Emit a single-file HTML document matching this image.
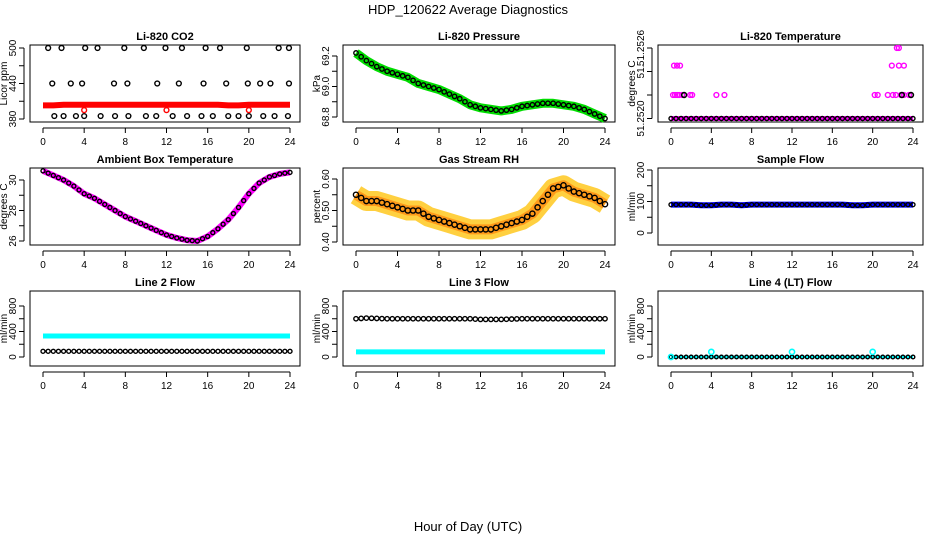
<!DOCTYPE html>
<html><head><meta charset="utf-8"><style>
body{margin:0;background:#fff}
svg{display:block;font-family:"Liberation Sans",sans-serif}
</style></head><body>
<svg id="c" width="936" height="540" viewBox="0 0 936 540">
<text x="468" y="14" text-anchor="middle" font-size="13">HDP_120622  Average Diagnostics</text>
<text x="468" y="531" text-anchor="middle" font-size="13">Hour of Day (UTC)</text>
</svg>
<script>
const hours=[0,1,2,3,4,5,6,7,8,9,10,11,12,13,14,15,16,17,18,19,20,21,22,23,24];
const xTicks=[0,4,8,12,16,20,24];
const co2Band=[403,403,404,404,404,404,404,404,404,404,404,404,404,404,404,404,404,404,403,403,404,404,404,404,404];
const co2BlackH=[1.1,2,3.2,4,5.6,7,8.3,10,11,12.6,14,15.4,16.5,18,19,20,21.4,22.5,23.8,0.5,1.8,4.1,5.3,7.9,9.8,11.9,13.5,15.8,17.2,19.8,22.9,23.9,0.9,2.7,3.8,6.9,8.2,11.1,13.2,15.6,17.8,19.9,21.1,22.1,23.9];
const co2BlackV=[385,385,385,385,385,385,385,385,385,385,385,385,385,385,385,385,385,385,385,500,500,500,500,500,500,500,500,500,500,500,500,500,440,440,440,440,440,440,440,440,440,440,440,440,440];
const co2RedH=[4,12,20];
const co2RedV=[395,395,395];
const presVals=[69.22,69.17,69.13,69.1,69.08,69.06,69.02,69.0,68.98,68.95,68.92,68.88,68.86,68.85,68.84,68.85,68.87,68.88,68.89,68.89,68.88,68.87,68.85,68.82,68.79];
const tempVals=[51.252,51.252,51.252,51.252,51.252,51.252,51.252,51.252,51.252,51.252,51.252,51.252,51.252,51.252,51.252,51.252,51.252,51.252,51.252,51.252,51.252,51.252,51.252,51.252,51.252];
const tempBlackUpH=[1.3,22.9,23.8];
const tempBlackUpV=[51.2522,51.2522,51.2522];
const tempPinkH=[0.2,0.4,0.6,0.8,1.1,1.9,2.1,4.5,5.3,20.2,20.5,21.5,22,22.3,22.8,23.1,23.6,0.3,0.6,0.9,21.9,22.6,23.1,22.4,22.6];
const tempPinkV=[51.2522,51.2522,51.2522,51.2522,51.2522,51.2522,51.2522,51.2522,51.2522,51.2522,51.2522,51.2522,51.2522,51.2522,51.2522,51.2522,51.2522,51.25245,51.25245,51.25245,51.25245,51.25245,51.25245,51.2526,51.2526];
const ambVals=[30.6,30.3,30.0,29.6,29.1,28.8,28.4,28.0,27.6,27.3,27.0,26.7,26.4,26.2,26.05,26.0,26.3,26.8,27.4,28.2,29.1,29.8,30.2,30.4,30.5];
const rhVals=[0.55,0.53,0.53,0.52,0.51,0.5,0.5,0.48,0.47,0.46,0.45,0.44,0.44,0.44,0.45,0.46,0.47,0.49,0.53,0.57,0.58,0.56,0.55,0.54,0.52];
const sampleVals=[90,90,90,88,88,90,90,88,90,90,90,90,90,90,90,90,90,90,88,88,90,90,90,90,90];
const line2Cyan=[330,330,330,330,330,330,330,330,330,330,330,330,330,330,330,330,330,330,330,330,330,330,330,330,330];
const line2Black=[90,90,90,90,90,90,90,90,90,90,90,90,90,90,90,90,90,90,90,90,90,90,90,90,90];
const line3Black=[600,610,605,600,600,600,600,600,600,600,600,600,590,590,590,595,600,600,600,600,600,600,600,600,600];
const line3Cyan=[80,80,80,80,80,80,80,80,80,80,80,80,80,80,80,80,80,80,80,80,80,80,80,80,80];
const line4Black=[0,0,0,0,0,0,0,0,0,0,0,0,0,0,0,0,0,0,0,0,0,0,0,0,0];
const line4SpikeH=[0,4,12,20];
const line4SpikeV=[0,80,80,80];

const svg=document.getElementById('c');const NS='http://www.w3.org/2000/svg';
function mk(t,a,p){const e=document.createElementNS(NS,t);for(const k in a)e.setAttribute(k,a[k]);(p||svg).appendChild(e);return e;}
const cols=[[30,300],[343,615],[658,923]];
const rows=[[45,122],[168,245],[291,366]];
function panel(ci,ri,title,ylab,y0v,y0p,y1v,y1p,yTicks,yLabels,name){
 const [l,r]=cols[ci],[t,b]=rows[ri];
 const g=mk('g',{});
 
 
 const x=v=>l+13+v*(r-l-23)/24;
 const y=v=>y0p+(v-y0v)*(y1p-y0p)/(y1v-y0v);
 mk('rect',{x:l,y:t,width:r-l,height:b-t,fill:'none',stroke:'#000','stroke-width':1},g);
 const tt=mk('text',{x:(l+r)/2,y:t-5,'text-anchor':'middle','font-size':11,'font-weight':'bold'},g);tt.textContent=title;
 
 
 mk('line',{x1:x(0),x2:x(24),y1:b+6,y2:b+6,stroke:'#000'},g);
 xTicks.forEach(v=>{mk('line',{x1:x(v),x2:x(v),y1:b+6,y2:b+11,stroke:'#000'},g);
  const tx=mk('text',{x:x(v),y:b+23,'text-anchor':'middle','font-size':10},g);tx.textContent=v;
  
  });
 mk('line',{x1:l-6,x2:l-6,y1:y(yTicks[0]),y2:y(yTicks[yTicks.length-1]),stroke:'#000'},g);
 yTicks.forEach((v,i)=>{mk('line',{x1:l-11,x2:l-6,y1:y(v),y2:y(v),stroke:'#000'},g);
  if(yLabels[i]!==''){const ty=mk('text',{x:0,y:0,'text-anchor':'middle','font-size':10,transform:`translate(${l-14},${y(v)}) rotate(-90)`},g);ty.textContent=yLabels[i];
  
  }});
 const yl=mk('text',{x:0,y:0,'text-anchor':'middle','font-size':10,transform:`translate(${l-23},${(t+b)/2}) rotate(-90)`},g);yl.textContent=ylab;
 
 
 return {g,x,y};
}
function band(p,hs,vs,col,w,op){mk('polyline',{points:hs.map((h,i)=>p.x(h)+','+p.y(vs[i])).join(' '),fill:'none',stroke:col,'stroke-width':w,'stroke-linejoin':'round','stroke-opacity':op||1},p.g);}
function pts(p,hs,vs,col,rad,sw,name){hs.forEach((h,i)=>{const c=mk('circle',{cx:p.x(h),cy:p.y(vs[i]),r:rad||2.6,fill:'none',stroke:col,'stroke-width':sw||1.4},p.g);
 
 });}
function dense(p,vs,col,rad,name){
 pts(p,hours,vs,col,rad,1.4,name);
 const mids=hours.slice(0,24).map(h=>h+0.5),mv=hours.slice(0,24).map((h,i)=>(vs[i]+vs[i+1])/2);pts(p,mids,mv,col,rad,1.4,name);}

let p=panel(0,0,'Li-820 CO2','Licor ppm',380,119,500,48,[380,410,440,470,500],['380','','440','','500'],'co2-panel');
band(p,hours,co2Band,'#ff0000',6);
pts(p,co2BlackH,co2BlackV,'#000',2.4,1.4,'co2-point');
pts(p,co2RedH,co2RedV,'#ff0000',2.4,1.4,'co2-red-point');

p=panel(1,0,'Li-820 Pressure','kPa',68.8,117,69.2,56,[68.8,68.9,69.0,69.1,69.2],['68.8','','69.0','','69.2'],'pressure-panel');
band(p,hours,presVals,'#00dd00',9);
dense(p,presVals,'#000',2.2,'pressure-point');

p=panel(2,0,'Li-820 Temperature','degrees C',51.252,118.5,51.2526,48,[51.252,51.2522,51.2524,51.2526],['51.2520','','51.','51.2526'],'temperature-panel');
band(p,hours,tempVals,'#ff00ff',5);
pts(p,tempPinkH,tempPinkV,'#ff00ff',2.4,1.4,'temperature-pink-point');
dense(p,tempVals,'#000',2,'temperature-point');
pts(p,tempBlackUpH,tempBlackUpV,'#000',2.4,1.6,'temperature-point');

p=panel(0,1,'Ambient Box Temperature','degrees C',26,241,30,180,[26,27,28,29,30],['26','','28','','30'],'ambient-panel');
band(p,hours,ambVals,'#ff00ff',6);
dense(p,ambVals,'#000',2,'ambient-point');

p=panel(1,1,'Gas Stream RH','percent',0.4,242,0.6,179,[0.4,0.45,0.5,0.55,0.6],['0.40','','0.50','','0.60'],'rh-panel');
band(p,hours,rhVals,'#ffc000',20,0.75);
band(p,hours,rhVals,'#ff7700',10,0.6);
dense(p,rhVals,'#000',2.6,'rh-point');

p=panel(2,1,'Sample Flow','ml/min',0,233,200,170,[0,50,100,150,200],['0','','100','','200'],'sample-flow-panel');
band(p,hours,sampleVals,'#0000ff',6);
dense(p,sampleVals,'#000',2,'sample-flow-point');

p=panel(0,2,'Line 2 Flow','ml/min',0,357,800,306,[0,200,400,600,800],['0','','400','','800'],'line2-panel');
band(p,hours,line2Cyan,'#00ffff',5);
dense(p,line2Black,'#000',2,'line2-point');

p=panel(1,2,'Line 3 Flow','ml/min',0,357,800,306,[0,200,400,600,800],['0','','400','','800'],'line3-panel');
band(p,hours,line3Cyan,'#00ffff',5);
dense(p,line3Black,'#000',2.2,'line3-point');

p=panel(2,2,'Line 4 (LT) Flow','ml/min',0,357,800,306,[0,200,400,600,800],['0','','400','','800'],'line4-panel');
band(p,hours,line4Black,'#00ffff',3);
dense(p,line4Black,'#000',1.8,'line4-point');
pts(p,line4SpikeH,line4SpikeV,'#00ffff',2.6,1.6,'line4-spike');
</script>
</body></html>
